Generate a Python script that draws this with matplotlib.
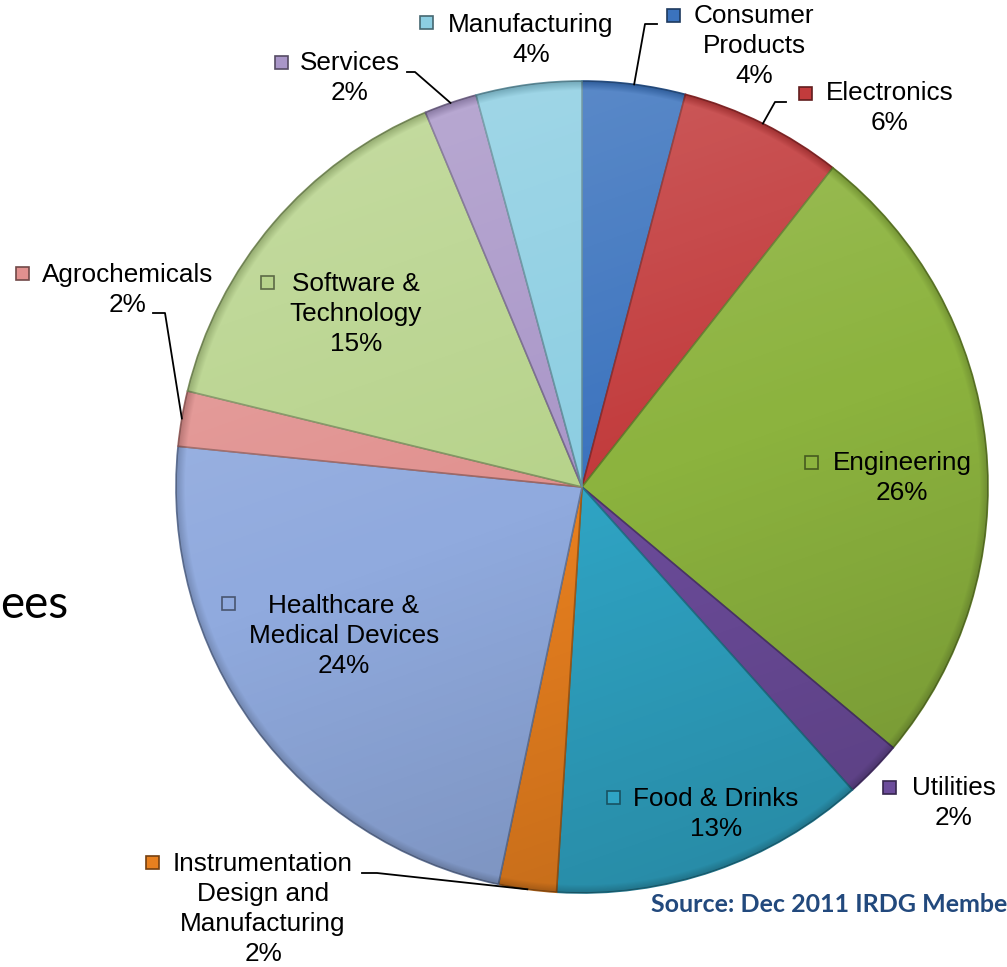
import numpy as np
import matplotlib
matplotlib.use("Agg")
import matplotlib.pyplot as plt
from matplotlib.patches import Rectangle, Circle
from matplotlib.colors import to_rgb

# sectors, clockwise from 12 o'clock
sectors = ["Consumer Products", "Electronics", "Engineering", "Utilities",
           "Food & Drinks", "Instrumentation Design and Manufacturing",
           "Healthcare & Medical Devices", "Agrochemicals",
           "Software & Technology", "Services", "Manufacturing"]
shares = [4.1, 6.5, 25.5, 2.3, 12.6, 2.3, 23.3, 2.2, 14.9, 2.1, 4.2]
pct_labels = ["4%", "6%", "26%", "2%", "13%", "2%", "24%", "2%", "15%", "2%", "4%"]
label_lines = ["Consumer\nProducts", "Electronics", "Engineering", "Utilities",
               "Food & Drinks", "Instrumentation\nDesign and\nManufacturing",
               "Healthcare &\nMedical Devices", "Agrochemicals",
               "Software &\nTechnology", "Services", "Manufacturing"]
colors = ["#3b73be", "#c23b3c", "#8cb33e", "#6c4c9b", "#2fa4c4", "#e8801f",
          "#90aade", "#e1918f", "#b7d38b", "#a996c8", "#8ccee2"]

# label block centre, key centre, leader line (None = label inside)
label_pos = [(754, 46), (890, 108), (902, 478), (954, 803), (716, 814),
             (263, 909), (344, 636), (128, 290), (356, 314), (350, 78), (531, 40)]
key_pos = [(673, 15), (805, 93), (811, 462), (889, 787), (613, 797),
           (152, 862), (228, 603), (22, 273), (267, 282), (281, 62), (426, 22)]
leaders = {0: [(657, 24), (645, 24)], 1: [(786, 102), (775, 102)],
           5: [(362, 873), (377, 873)], 7: [(153, 313), (165, 313)],
           9: [(407, 72), (415, 72)]}

W, H = 1007, 967
cx, cy, R = 582, 487, 406

fig = plt.figure(figsize=(W / 100, H / 100), dpi=100)
ax = fig.add_axes([0, 0, 1, 1])

def darker(c, f=0.7):
    r, g, b = to_rgb(c)
    return (r * f, g * f, b * f)

wedges, _ = ax.pie(shares, colors=colors, startangle=-90, counterclock=True,
                   center=(cx, cy), radius=R, frame=True,
                   wedgeprops=dict(linewidth=1.2))
for w, c in zip(wedges, colors):
    w.set_edgecolor(darker(c, 0.7))

ax.set_xlim(0, W)
ax.set_ylim(H, 0)
ax.set_aspect("equal")
ax.axis("off")

# soft lighting over the pie: lighter top-left, darker bottom-right, dark rim
yy, xx = np.mgrid[0:H, 0:W]
t = ((xx - cx) * 0.35 + (yy - cy)) / R
rr = np.hypot(xx - cx, yy - cy)
rim = np.clip((rr - (R - 9)) / 9, 0, 1)
light = np.where(t < 0, np.abs(t) * 0.16, 0.0) * (1 - rim)
dark = np.where(t > 0, t * 0.14, 0.0) + rim * 0.18
alpha = np.clip(light + dark, 0, 0.3)
white_part = np.where(alpha > 0, light / np.maximum(alpha, 1e-6), 0)
shade = np.zeros((H, W, 4))
shade[..., :3] = white_part[..., None]
shade[..., 3] = alpha
img = ax.imshow(shade, extent=(0, W, H, 0), zorder=3, interpolation="bilinear")
img.set_clip_path(Circle((cx, cy), R, transform=ax.transData))

font = "Liberation Sans"
for i, w in enumerate(wedges):
    lx, ly = label_pos[i]
    ax.text(lx, ly, label_lines[i] + "\n" + pct_labels[i], ha="center", va="center",
            fontsize=18.8, family=font, linespacing=1.3, zorder=5)
    kx, ky = key_pos[i]
    ax.add_patch(Rectangle((kx - 6.5, ky - 6.5), 13, 13, facecolor=colors[i],
                           edgecolor=darker(colors[i], 0.5), linewidth=1.2, zorder=5))
    if i in leaders:
        ang = np.deg2rad((w.theta1 + w.theta2) / 2)
        sx, sy = cx + R * np.cos(ang), cy + R * np.sin(ang)
        pts = leaders[i] + [(sx, sy)]
        ax.plot([p[0] for p in pts], [p[1] for p in pts], color="black",
                linewidth=1.3, zorder=4)

ax.text(0, 605, "ees", ha="left", va="center", fontsize=33, family="Lato",
        color="black", zorder=5)
ax.text(651, 904, "Source: Dec 2011 IRDG Membership", ha="left", va="center",
        fontsize=18, family="Lato", fontweight="bold", color="#22497d", zorder=5)

fig.savefig("out.png", dpi=100)
